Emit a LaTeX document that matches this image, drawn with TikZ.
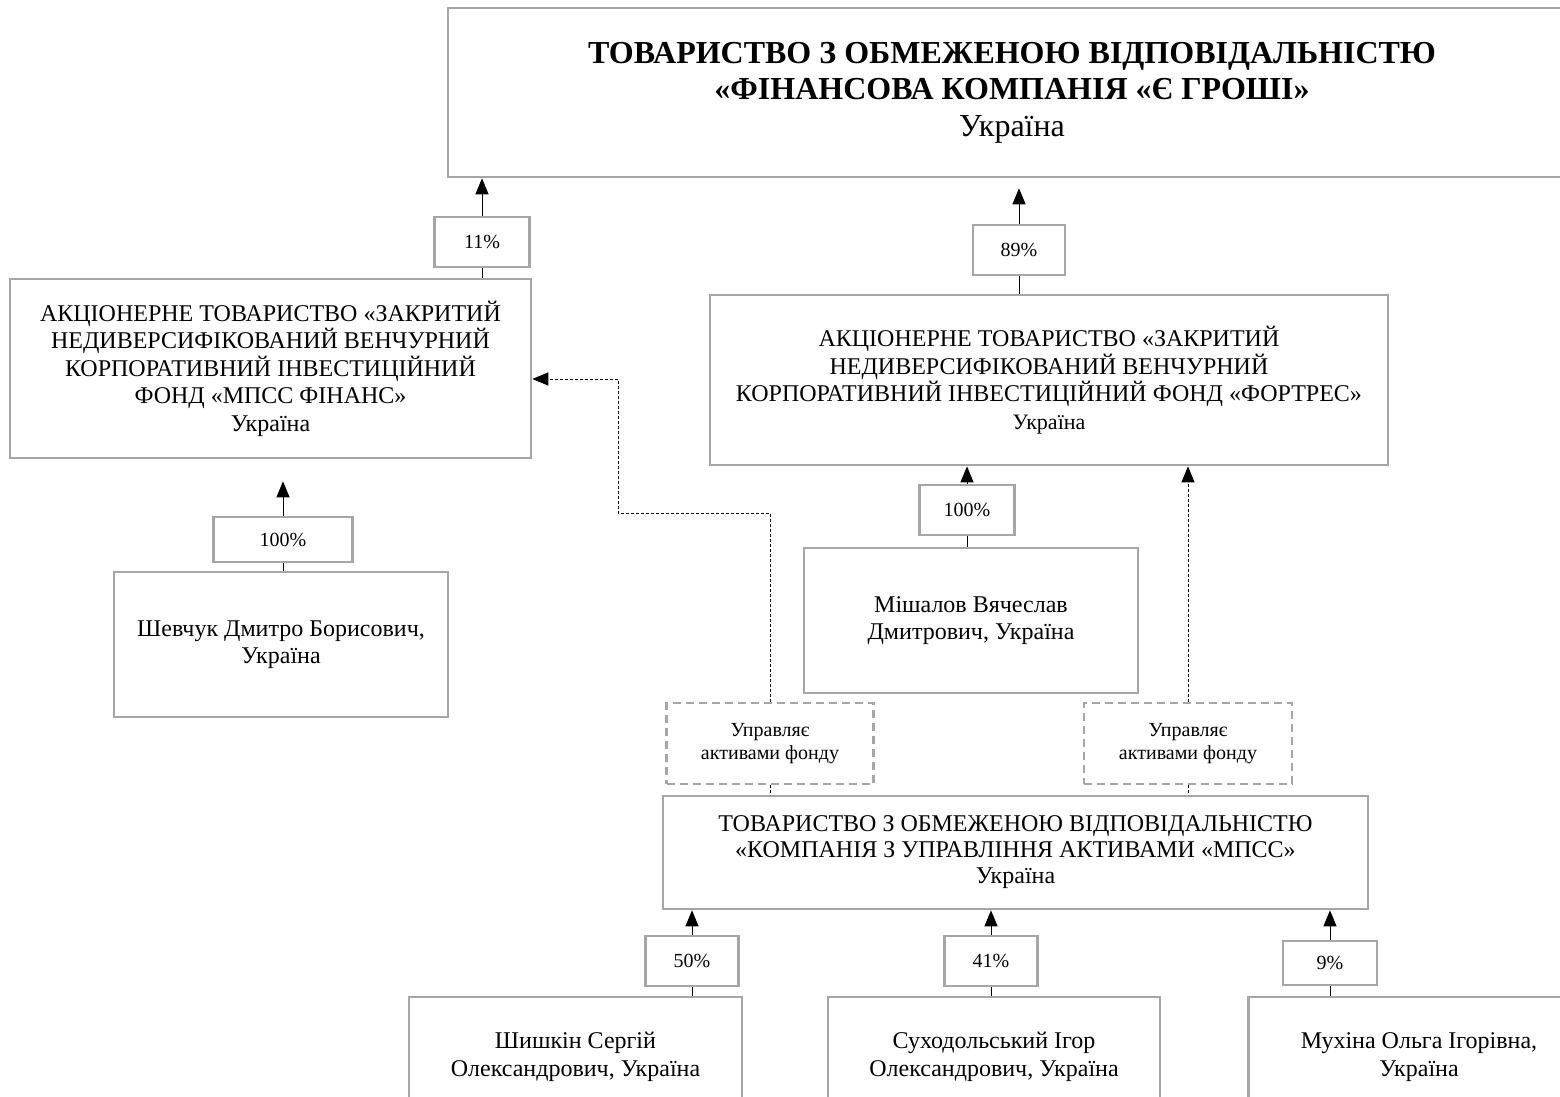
\documentclass[tikz,border=0pt]{standalone}
\usepackage{fontspec}
\setmainfont{Liberation Serif}
\usetikzlibrary{arrows.meta}
\definecolor{framegray}{HTML}{A6A6A6}

\begin{document}
\begin{tikzpicture}[x=0.5pt,y=-0.5pt,
    entity/.style={draw=framegray,line width=1.3pt,align=center,inner sep=2pt,
        font=\fontsize{12pt}{13.75pt}\selectfont},
    share/.style={draw=framegray,line width=1.3pt,inner sep=2pt,
        font=\fontsize{10pt}{12pt}\selectfont},
    manage/.style={draw=framegray,line width=1.3pt,dash pattern=on 4pt off 2.5pt,
        align=center,inner sep=2pt,font=\fontsize{10pt}{11.5pt}\selectfont},
    owns/.style={-{Triangle[width=6.5pt,length=8pt]},line width=0.5pt},
    link/.style={line width=0.5pt},
    ctrlline/.style={line width=0.5pt,dash pattern=on 1.5pt off 1pt},
    ctrl/.style={ctrlline,-{Triangle[width=6.5pt,length=8pt]}}]
    \useasboundingbox (0,0) rectangle (1560,1097);

    \node[entity,minimum width=564pt,minimum height=84.5pt,
        font=\fontsize{16pt}{18.25pt}\selectfont] (top) at (1012,92.5)
        {\textbf{ТОВАРИСТВО З ОБМЕЖЕНОЮ ВІДПОВІДАЛЬНІСТЮ}\\
         \textbf{«ФІНАНСОВА КОМПАНІЯ «Є ГРОШІ»}\\ Україна};

    \node[share,minimum width=47.5pt,minimum height=25pt] (p11) at (482,242) {11\%};
    \node[entity,minimum width=260.5pt,minimum height=89.5pt] (mpss) at (270.5,368.5)
        {АКЦІОНЕРНЕ ТОВАРИСТВО «ЗАКРИТИЙ\\ НЕДИВЕРСИФІКОВАНИЙ ВЕНЧУРНИЙ\\
         КОРПОРАТИВНИЙ ІНВЕСТИЦІЙНИЙ\\ ФОНД «МПСС ФІНАНС»\\ Україна};
    \node[share,minimum width=69.5pt,minimum height=22.5pt] (p100a) at (283,539.5) {100\%};
    \node[entity,minimum width=167pt,minimum height=72.5pt] (shev) at (281,644.5)
        {Шевчук Дмитро Борисович,\\ Україна};

    \node[share,minimum width=46pt,minimum height=25pt] (p89) at (1019,250) {89\%};
    \node[entity,minimum width=339pt,minimum height=85pt] (fort) at (1049,380)
        {АКЦІОНЕРНЕ ТОВАРИСТВО «ЗАКРИТИЙ\\ НЕДИВЕРСИФІКОВАНИЙ ВЕНЧУРНИЙ\\
         КОРПОРАТИВНИЙ ІНВЕСТИЦІЙНИЙ ФОНД «ФОРТРЕС»\\
         {\fontsize{11pt}{13.5pt}\selectfont Україна}};
    \node[share,minimum width=47.5pt,minimum height=25pt] (p100b) at (967,510) {100\%};
    \node[entity,minimum width=167pt,minimum height=72.5pt] (mish) at (971,620.5)
        {Мішалов Вячеслав\\ Дмитрович, Україна};

    \node[manage,minimum width=103.5pt,minimum height=40.5pt] (upr1) at (770,743.5)
        {Управляє\\ активами фонду};
    \node[manage,minimum width=104pt,minimum height=40.5pt] (upr2) at (1188,743.5)
        {Управляє\\ активами фонду};
    \node[entity,minimum width=352.5pt,minimum height=56.5pt,
        font=\fontsize{12pt}{13pt}\selectfont] (kua) at (1015.5,852.5)
        {ТОВАРИСТВО З ОБМЕЖЕНОЮ ВІДПОВІДАЛЬНІСТЮ\\
         «КОМПАНІЯ З УПРАВЛІННЯ АКТИВАМИ «МПСС»\\ Україна};

    \node[share,minimum width=46.5pt,minimum height=25pt] (p50) at (692,961) {50\%};
    \node[share,minimum width=46.5pt,minimum height=25pt] (p41) at (991,961) {41\%};
    \node[share,minimum width=47pt,minimum height=22pt] (p9) at (1330,963) {9\%};
    \node[entity,minimum width=166.5pt,minimum height=60pt] (shish) at (575.5,1057)
        {Шишкін Сергій\\ Олександрович, Україна};
    \node[entity,minimum width=166pt,minimum height=60pt] (sukh) at (994,1057)
        {Суходольський Ігор\\ Олександрович, Україна};
    \node[entity,minimum width=170.5pt,minimum height=60pt] (mukh) at (1419,1057)
        {Мухіна Ольга Ігорівна,\\ Україна};

    \coordinate (ctrlbend) at (618,513);
    \coordinate (ctrlin) at (mpss.east |- 0,379);

    \draw[owns] (p11.north) -- (p11.north |- top.south);
    \draw[link] (p11.south) -- (p11.south |- mpss.north);
    \draw[owns,shorten >=11pt] (p100a.north) -- (p100a.north |- mpss.south);
    \draw[link] (p100a.south) -- (p100a.south |- shev.north);
    \draw[owns,shorten >=5pt] (p89.north) -- (p89.north |- top.south);
    \draw[link] (p89.south) -- (p89.south |- fort.north);
    \draw[owns] (p100b.north) -- (p100b.north |- fort.south);
    \draw[link] (p100b.south) -- (p100b.south |- mish.north);
    \draw[ctrl] (upr1.north) |- (ctrlbend) |- (ctrlin);
    \draw[ctrl] (upr2.north) -- (upr2.north |- fort.south);
    \draw[ctrlline] (upr1.south) -- (upr1.south |- kua.north);
    \draw[ctrlline] (upr2.south) -- (upr2.south |- kua.north);
    \draw[owns] (p50.north) -- (p50.north |- kua.south);
    \draw[link] (p50.south) -- (p50.south |- shish.north);
    \draw[owns] (p41.north) -- (p41.north |- kua.south);
    \draw[link] (p41.south) -- (p41.south |- sukh.north);
    \draw[owns] (p9.north) -- (p9.north |- kua.south);
    \draw[link] (p9.south) -- (p9.south |- mukh.north);
\end{tikzpicture}
\end{document}
